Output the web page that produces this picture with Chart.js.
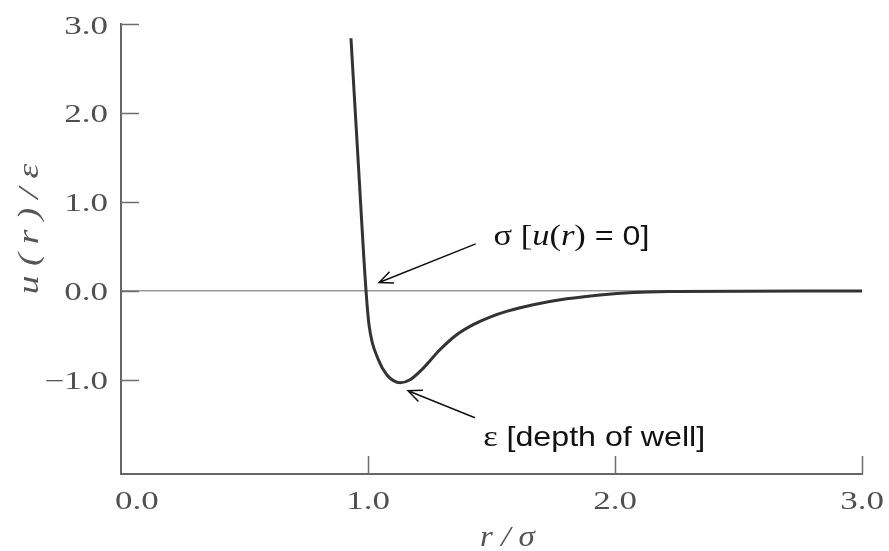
<!DOCTYPE html>
<html>
<head>
<meta charset="utf-8">
<script src="https://cdn.jsdelivr.net/npm/chart.js@4.4.1/dist/chart.umd.min.js"></script>
<style>
  html, body { margin: 0; padding: 0; background: #fff; }
  #wrap { width: 889px; height: 551px; }
</style>
</head>
<body>
<div id="wrap"><canvas id="chart" width="889" height="551"></canvas></div>
<script>
// ─────────────────────────────────────────────
//  Data
// ─────────────────────────────────────────────

const rValues = [0.931, 0.961, 0.992, 1.005, 1.042, 1.076, 1.103, 1.130, 1.170, 1.224, 1.291, 1.359, 1.426, 1.494, 1.561, 1.669, 1.804, 1.939, 2.074, 2.250, 2.500, 3.000];
const uValues = [2.84,  1.42,  0.00, -0.40, -0.775, -0.944, -1.01, -1.035, -1.00, -0.869, -0.663, -0.494, -0.380, -0.295, -0.232, -0.157, -0.090, -0.046, -0.019, -0.008, -0.004, -0.003];

const xTicks = [0, 1, 2, 3];
const yTicks = [-1, 0, 1, 2, 3];
const xRange = [0, 3];
const yRange = [-2.06, 3];

const xTitle = 'r / σ';
const yTitle = 'u ( r ) / ε';

// annotation text + arrow, in data units
const notes = [
  {
    parts: [['σ [', 'serif'], ['u', 'italic'], ['(', 'serif'], ['r', 'italic'], [')', 'serif'], [' = 0]', 'sans']],
    at: [1.508, 0.517], from: [1.436, 0.528], to: [1.045, 0.093],
  },
  {
    parts: [['ε ', 'serif'], ['[depth of well]', 'sans']],
    at: [1.467, -1.749], from: [1.433, -1.427], to: [1.162, -1.124],
  },
];

// ─────────────────────────────────────────────
//  Drawing helpers
// ─────────────────────────────────────────────

const FONTS = {
  serif:  '30px "Liberation Serif"',
  italic: 'italic 30px "Liberation Serif"',
  sans:   '28px "Liberation Sans"',
};

function fmtTick(v) {
  return v.toFixed(1).replace('-', '\u2212');
}

// the reference type is set wide, so text is drawn with a horizontal stretch
function stretchText(ctx, text, px, py, sx, align) {
  ctx.save();
  ctx.translate(px, py);
  ctx.scale(sx, 1);
  ctx.textAlign = align;
  ctx.fillText(text, 0, 0);
  ctx.restore();
}

function arrow(ctx, x0, y0, x1, y1) {
  const a = Math.atan2(y1 - y0, x1 - x0);
  const len = 15, spread = 0.42;
  ctx.beginPath();
  ctx.moveTo(x0, y0);
  ctx.lineTo(x1, y1);
  ctx.moveTo(x1 - len * Math.cos(a - spread), y1 - len * Math.sin(a - spread));
  ctx.lineTo(x1, y1);
  ctx.lineTo(x1 - len * Math.cos(a + spread), y1 - len * Math.sin(a + spread));
  ctx.stroke();
}

const decorPlugin = {
  id: 'decor',
  afterDraw(chart) {
    const { ctx, chartArea: area, scales: { x, y } } = chart;
    ctx.save();

    // inward tick marks
    ctx.strokeStyle = '#6e6e6e';
    ctx.lineWidth = 1.5;
    ctx.beginPath();
    yTicks.forEach(v => {
      const py = Math.round(y.getPixelForValue(v)) + 0.5;
      ctx.moveTo(area.left, py);
      ctx.lineTo(area.left + 18, py);
    });
    xTicks.slice(1).forEach(v => {
      const px = Math.round(x.getPixelForValue(v)) + 0.5;
      ctx.moveTo(px, area.bottom);
      ctx.lineTo(px, area.bottom - 18);
    });
    ctx.stroke();

    // tick labels
    ctx.fillStyle = '#505050';
    ctx.font = '25px "Liberation Serif"';
    ctx.textBaseline = 'middle';
    yTicks.forEach(v => {
      stretchText(ctx, fmtTick(v), area.left - 13, y.getPixelForValue(v) + 3, 1.4, 'right');
    });
    xTicks.forEach(v => {
      const label = fmtTick(v);
      const half  = ctx.measureText(label).width * 1.4 / 2;
      const px    = Math.max(x.getPixelForValue(v), area.left - 6 + half);
      stretchText(ctx, label, px, area.bottom + 28, 1.4, 'center');
    });

    // axis titles
    ctx.fillStyle = '#555';
    ctx.font = 'italic 30px "Liberation Serif"';
    stretchText(ctx, xTitle, (area.left + area.right) / 2 + 16, area.bottom + 64, 1.1, 'center');
    ctx.save();
    ctx.translate(30, (area.top + area.bottom) / 2 - 20);
    ctx.rotate(-Math.PI / 2);
    ctx.scale(1.25, 1);
    ctx.textAlign = 'center';
    ctx.fillText(yTitle, 0, 0);
    ctx.restore();

    // annotations
    ctx.fillStyle = '#111';
    ctx.strokeStyle = '#111';
    ctx.lineWidth = 1.5;
    ctx.textBaseline = 'alphabetic';
    notes.forEach(n => {
      ctx.save();
      ctx.translate(x.getPixelForValue(n.at[0]), y.getPixelForValue(n.at[1]));
      ctx.scale(1.15, 1);
      ctx.textAlign = 'left';
      let cx = 0;
      n.parts.forEach(([t, f]) => {
        ctx.font = FONTS[f];
        ctx.fillText(t, cx, 0);
        cx += ctx.measureText(t).width;
      });
      ctx.restore();
      arrow(ctx,
        x.getPixelForValue(n.from[0]), y.getPixelForValue(n.from[1]),
        x.getPixelForValue(n.to[0]),   y.getPixelForValue(n.to[1]));
    });

    ctx.restore();
  }
};

// ─────────────────────────────────────────────
//  Chart
// ─────────────────────────────────────────────

const points = rValues.map((r, i) => ({ x: r, y: uValues[i] }));

new Chart(document.getElementById('chart'), {
  type: 'line',
  data: {
    datasets: [{
      data: points,
      borderColor: '#333',
      borderWidth: 3,
      pointRadius: 0,
      fill: false,
      cubicInterpolationMode: 'monotone',
    }]
  },
  options: {
    responsive: false,
    animation: false,
    devicePixelRatio: 1,
    layout: { padding: { top: 24, right: 27, left: 0, bottom: 0 } },
    plugins: { legend: { display: false }, tooltip: { enabled: false } },
    scales: {
      x: {
        type: 'linear',
        min: xRange[0],
        max: xRange[1],
        afterFit: s => { s.height = 77; },
        grid:   { display: false },
        border: { display: true, color: '#666', width: 2 },
        ticks:  { display: false },
      },
      y: {
        type: 'linear',
        min: yRange[0],
        max: yRange[1],
        afterFit: s => { s.width = 121; },
        afterBuildTicks: s => { s.ticks = yTicks.map(v => ({ value: v })); },
        grid: {
          drawTicks: false,
          lineWidth: 1.5,
          color: c => (c.tick && c.tick.value === 0 ? '#9a9a9a' : 'rgba(0,0,0,0)'),
        },
        border: { display: true, color: '#666', width: 2 },
        ticks:  { display: false },
      }
    }
  },
  plugins: [decorPlugin]
});
</script>
</body>
</html>
